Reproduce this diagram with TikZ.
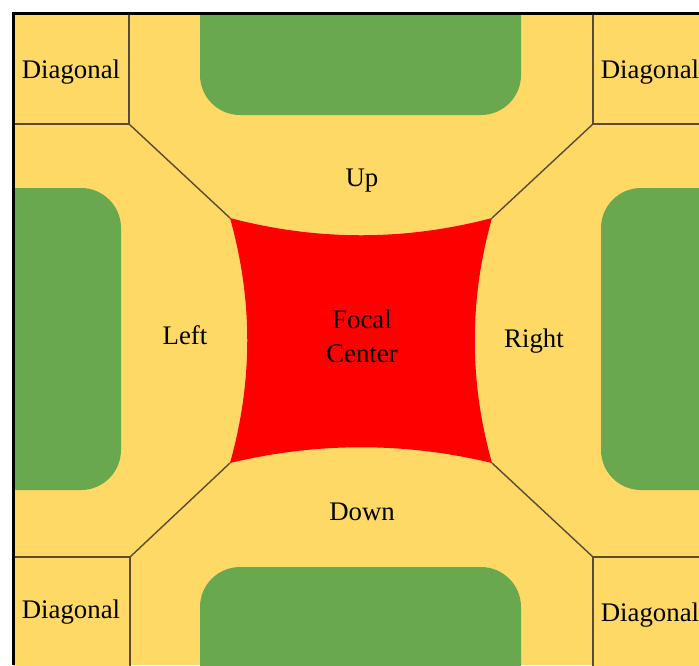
\documentclass[tikz,border=0pt]{standalone}
\usepackage{fontspec}
\setmainfont{Liberation Serif}
\usepackage{xcolor}
\usepackage{tikz}

\definecolor{roadyellow}{HTML}{FFD966}
\definecolor{blockgreen}{HTML}{6AA84F}
\definecolor{edgebrown}{HTML}{5C4B33}

\begin{document}
\begin{tikzpicture}[
    x=0.5pt, y=-0.5pt,
    font=\fontsize{13.4pt}{17pt}\selectfont,
    block/.style={fill=blockgreen, rounded corners=20pt},
    cornerbox/.style={draw=edgebrown, line width=0.75pt, fill=roadyellow},
    divider/.style={draw=edgebrown, line width=0.7pt},
    lbl/.style={inner sep=0pt, align=center}
]

\useasboundingbox (0,0) rectangle (699,665);

% Background
\fill[white] (0,0) rectangle (699,665);
\fill[roadyellow] (13,13) rectangle (699,665);

% Blocks and corner boxes (cut by the frame)
\begin{scope}
    \clip (13,13) rectangle (699,665);
    \fill[block] (200,-60) rectangle (521,115);
    \fill[block] (200,567) rectangle (521,740);
    \fill[block] (-60,188) rectangle (121,490);
    \fill[block] (601,188) rectangle (780,490);

    \draw[cornerbox] (-10,-10) rectangle (129,124);
    \draw[cornerbox] (593,-10) rectangle (720,124);
    \draw[cornerbox] (-10,557) rectangle (130,700);
    \draw[cornerbox] (593,557) rectangle (720,700);
\end{scope}

% Corner points
\coordinate (box_tl) at (129,124);
\coordinate (box_tr) at (593,124);
\coordinate (box_bl) at (130,557);
\coordinate (box_br) at (593,557);
\coordinate (red_tl) at (230,218);
\coordinate (red_tr) at (492,218);
\coordinate (red_bl) at (230,463);
\coordinate (red_br) at (492,463);

% Focal area
\fill[red] (red_tl) .. controls (317,241) and (405,241) .. (red_tr)
    .. controls (469,300) and (469,381) .. (red_br)
    .. controls (405,442) and (317,442) .. (red_bl)
    .. controls (253,381) and (253,300) .. (red_tl) -- cycle;

% Diagonal dividers
\draw[divider] (box_tl) -- (red_tl);
\draw[divider] (box_tr) -- (red_tr);
\draw[divider] (box_bl) -- (red_bl);
\draw[divider] (box_br) -- (red_br);

% Frame
\draw[line width=1.5pt] (13,665) -- (13,13) -- (699,13);

% Labels
\node[lbl] (diag_tl) at (71,72) {Diagonal};
\node[lbl] (diag_tr) at (650,72) {Diagonal};
\node[lbl] (diag_bl) at (71,612) {Diagonal};
\node[lbl] (diag_br) at (650,615) {Diagonal};
\node[lbl] (lab_up) at (362,181) {Up};
\node[lbl] (lab_left) at (185,335) {Left};
\node[lbl] (lab_right) at (534,341) {Right};
\node[lbl] (focal) at (362,336) {Focal\\Center};
\node[lbl] (lab_down) at (362,512) {Down};

\end{tikzpicture}
\end{document}
